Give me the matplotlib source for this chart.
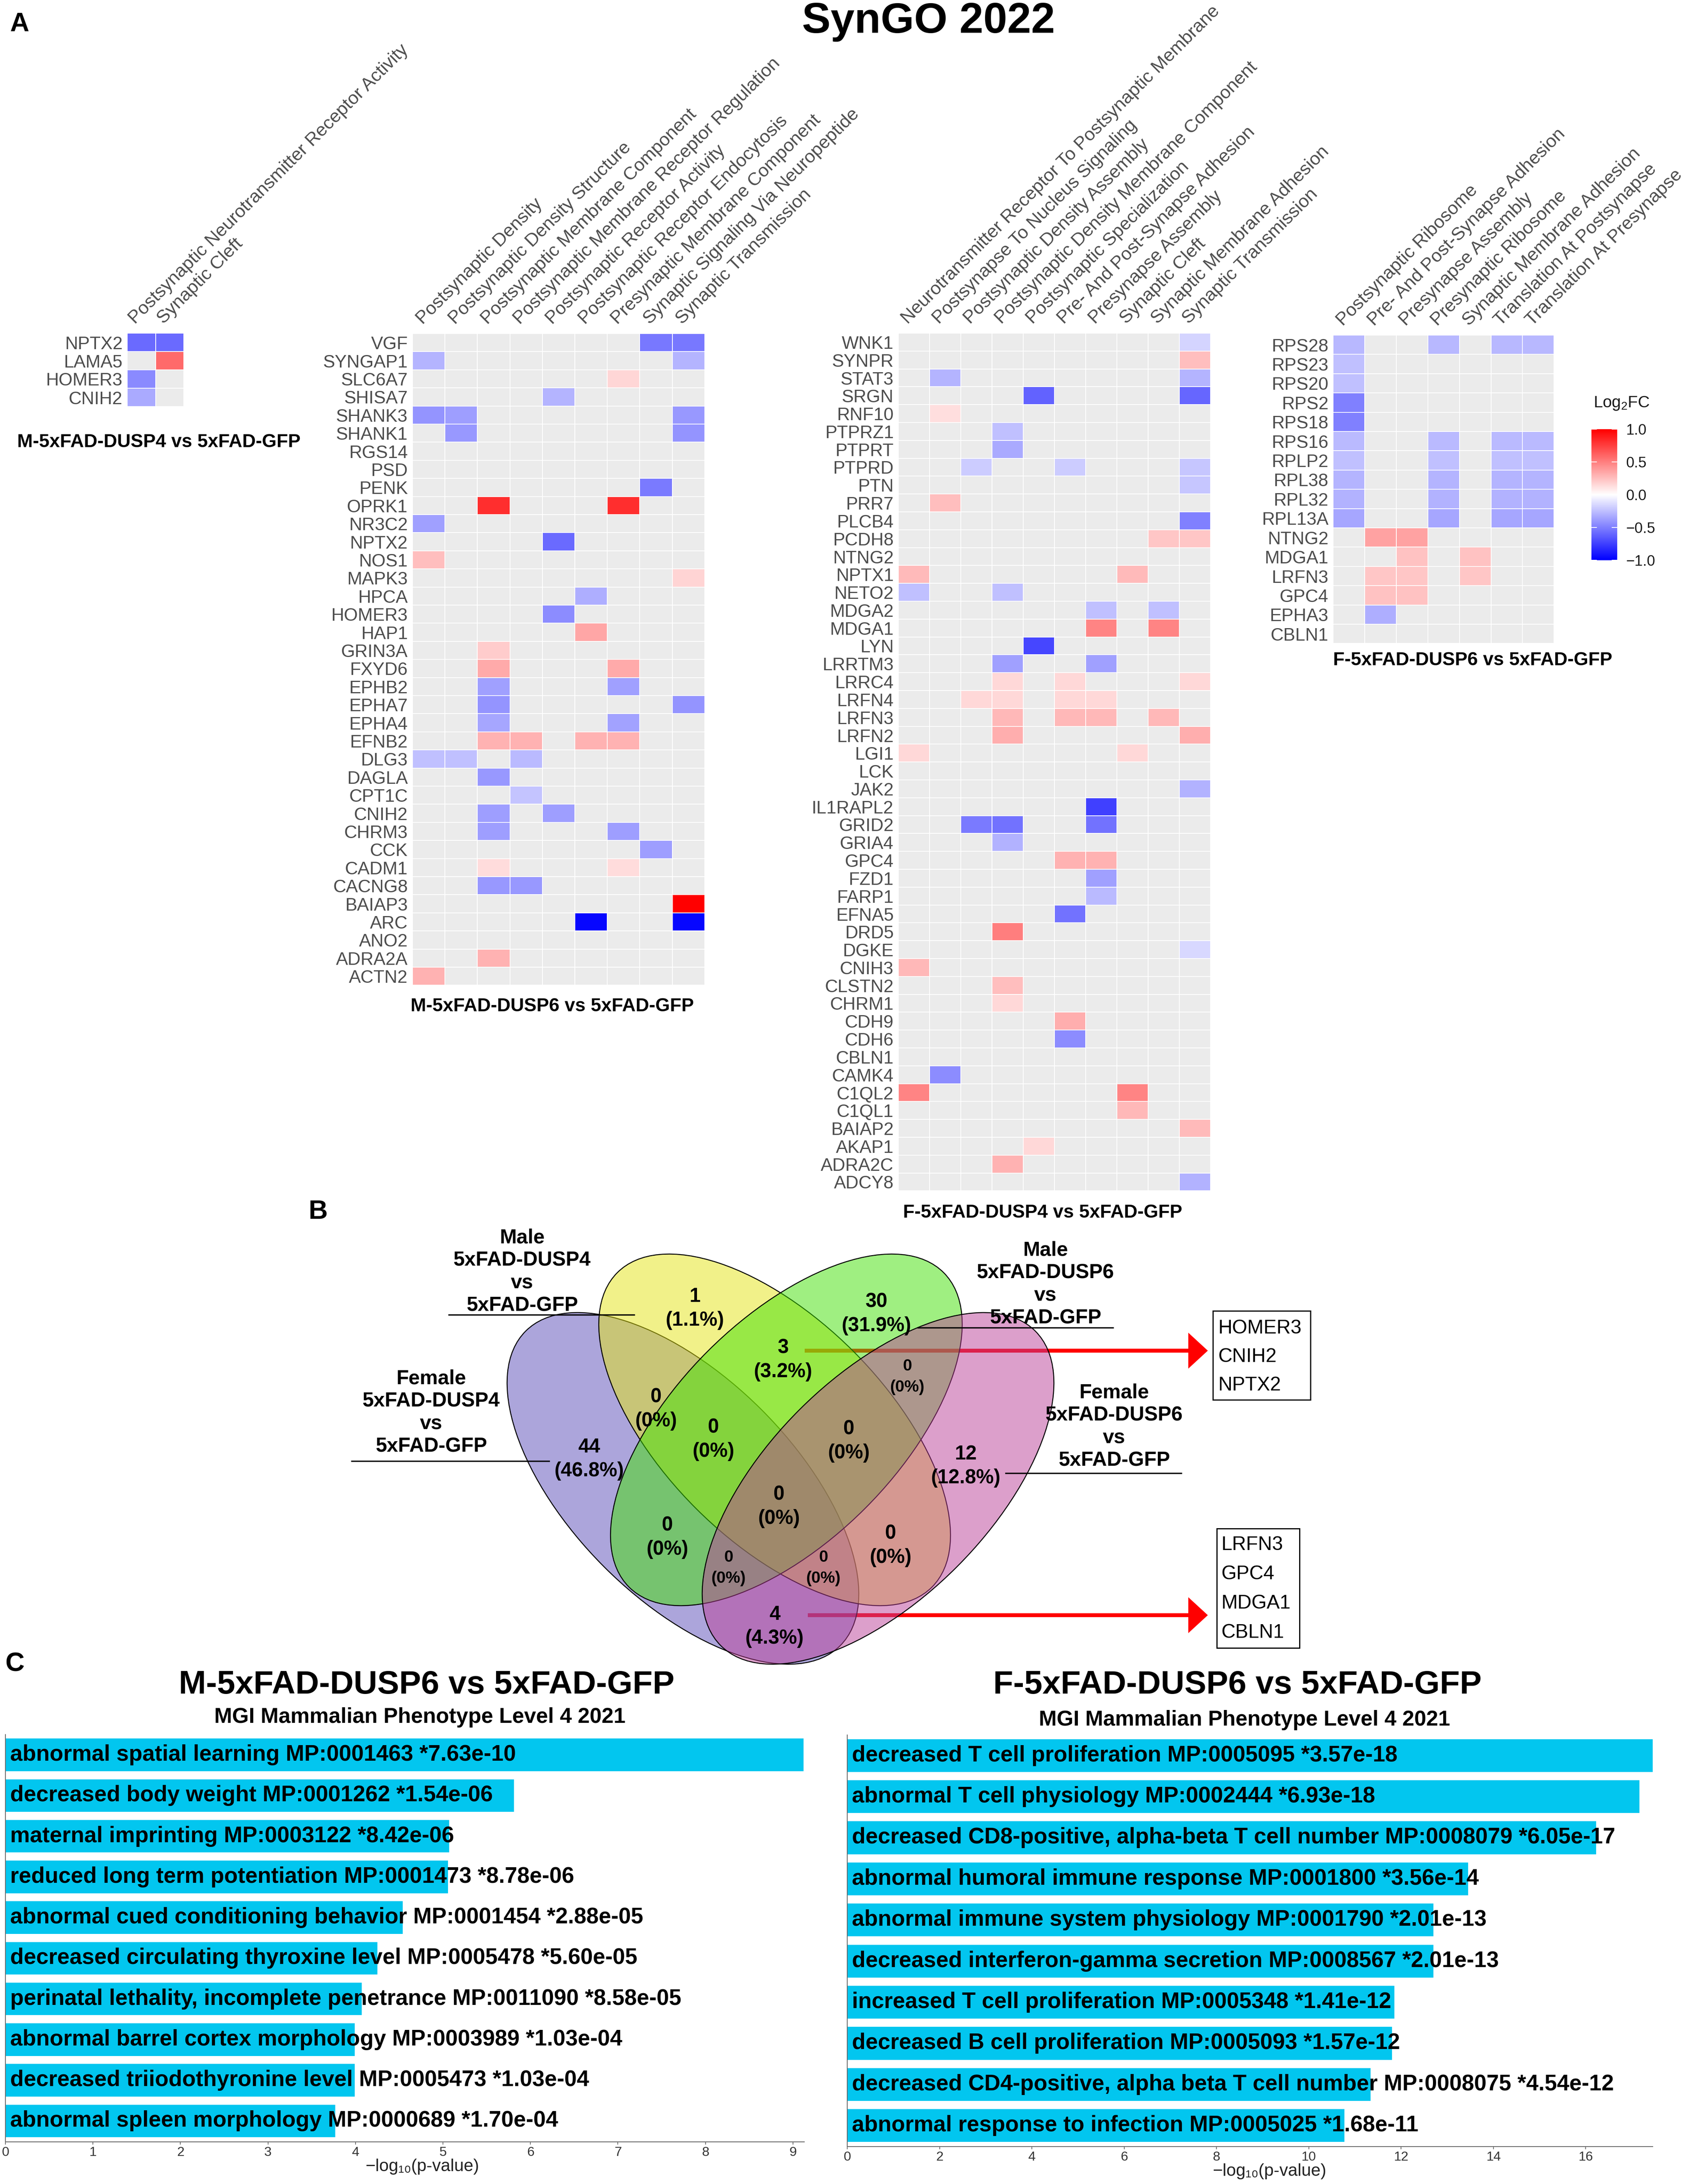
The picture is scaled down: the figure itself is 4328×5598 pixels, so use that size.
import numpy as np
import matplotlib
matplotlib.use('Agg')
import matplotlib.pyplot as plt
from matplotlib.colors import LinearSegmentedColormap
from matplotlib.patches import Ellipse, Rectangle, FancyArrow
import matplotlib.transforms as mtransforms

# ---------------------------------------------------------------- data
_ = None

H1_TERMS = ['Postsynaptic Neurotransmitter Receptor Activity', 'Synaptic Cleft']
H1_GENES = ['NPTX2', 'LAMA5', 'HOMER3', 'CNIH2']
H1_VALUES = [
    [-0.58, -0.58],
    [_, 0.58],
    [-0.46, _],
    [-0.33, _],
]

H2_TERMS = ['Postsynaptic Density', 'Postsynaptic Density Structure',
            'Postsynaptic Membrane Component', 'Postsynaptic Membrane Receptor Regulation',
            'Postsynaptic Receptor Activity', 'Postsynaptic Receptor Endocytosis',
            'Presynaptic Membrane Component', 'Synaptic Signaling Via Neuropeptide',
            'Synaptic Transmission']
H2_GENES = ['VGF', 'SYNGAP1', 'SLC6A7', 'SHISA7', 'SHANK3', 'SHANK1', 'RGS14', 'PSD', 'PENK',
            'OPRK1', 'NR3C2', 'NPTX2', 'NOS1', 'MAPK3', 'HPCA', 'HOMER3', 'HAP1', 'GRIN3A',
            'FXYD6', 'EPHB2', 'EPHA7', 'EPHA4', 'EFNB2', 'DLG3', 'DAGLA', 'CPT1C', 'CNIH2',
            'CHRM3', 'CCK', 'CADM1', 'CACNG8', 'BAIAP3', 'ARC', 'ANO2', 'ADRA2A', 'ACTN2']
H2_VALUES = [
    [_, _, _, _, _, _, _, -0.53, -0.53],       # VGF
    [-0.29, _, _, _, _, _, _, _, -0.29],       # SYNGAP1
    [_, _, _, _, _, _, 0.16, _, _],            # SLC6A7
    [_, _, _, _, -0.29, _, _, _, _],           # SHISA7
    [-0.42, -0.38, _, _, _, _, _, _, -0.40],   # SHANK3
    [_, -0.40, _, _, _, _, _, _, -0.42],       # SHANK1
    [_, _, _, _, _, _, _, _, _],               # RGS14
    [_, _, _, _, _, _, _, _, _],               # PSD
    [_, _, _, _, _, _, _, -0.52, _],           # PENK
    [_, _, 0.82, _, _, _, 0.82, _, _],         # OPRK1
    [-0.37, _, _, _, _, _, _, _, _],           # NR3C2
    [_, _, _, _, -0.58, _, _, _, _],           # NPTX2
    [0.25, _, _, _, _, _, _, _, _],            # NOS1
    [_, _, _, _, _, _, _, _, 0.17],            # MAPK3
    [_, _, _, _, _, -0.32, _, _, _],           # HPCA
    [_, _, _, _, -0.45, _, _, _, _],           # HOMER3
    [_, _, _, _, _, 0.35, _, _, _],            # HAP1
    [_, _, 0.20, _, _, _, _, _, _],            # GRIN3A
    [_, _, 0.33, _, _, _, 0.33, _, _],         # FXYD6
    [_, _, -0.37, _, _, _, -0.37, _, _],       # EPHB2
    [_, _, -0.42, _, _, _, _, _, -0.42],       # EPHA7
    [_, _, -0.35, _, _, _, -0.36, _, _],       # EPHA4
    [_, _, 0.30, 0.30, _, 0.30, 0.30, _, _],   # EFNB2
    [-0.25, -0.25, _, -0.27, _, _, _, _, _],   # DLG3
    [_, _, -0.40, _, _, _, _, _, _],           # DAGLA
    [_, _, _, -0.23, _, _, _, _, _],           # CPT1C
    [_, _, -0.38, _, -0.38, _, _, _, _],       # CNIH2
    [_, _, -0.38, _, _, _, -0.38, _, _],       # CHRM3
    [_, _, _, _, _, _, _, -0.38, _],           # CCK
    [_, _, 0.14, _, _, _, 0.14, _, _],         # CADM1
    [_, _, -0.40, -0.40, _, _, _, _, _],       # CACNG8
    [_, _, _, _, _, _, _, _, 1.00],            # BAIAP3
    [_, _, _, _, _, -0.97, _, _, -0.97],       # ARC
    [_, _, _, _, _, _, _, _, _],               # ANO2
    [_, _, 0.30, _, _, _, _, _, _],            # ADRA2A
    [0.30, _, _, _, _, _, _, _, _],            # ACTN2
]

H3_TERMS = ['Neurotransmitter Receptor To Postsynaptic Membrane', 'Postsynapse To Nucleus Signaling',
            'Postsynaptic Density Assembly', 'Postsynaptic Density Membrane Component',
            'Postsynaptic Specialization', 'Pre- And Post-Synapse Adhesion', 'Presynapse Assembly',
            'Synaptic Cleft', 'Synaptic Membrane Adhesion', 'Synaptic Transmission']
H3_GENES = ['WNK1', 'SYNPR', 'STAT3', 'SRGN', 'RNF10', 'PTPRZ1', 'PTPRT', 'PTPRD', 'PTN', 'PRR7',
            'PLCB4', 'PCDH8', 'NTNG2', 'NPTX1', 'NETO2', 'MDGA2', 'MDGA1', 'LYN', 'LRRTM3',
            'LRRC4', 'LRFN4', 'LRFN3', 'LRFN2', 'LGI1', 'LCK', 'JAK2', 'IL1RAPL2', 'GRID2',
            'GRIA4', 'GPC4', 'FZD1', 'FARP1', 'EFNA5', 'DRD5', 'DGKE', 'CNIH3', 'CLSTN2',
            'CHRM1', 'CDH9', 'CDH6', 'CBLN1', 'CAMK4', 'C1QL2', 'C1QL1', 'BAIAP2', 'AKAP1',
            'ADRA2C', 'ADCY8']
H3_VALUES = [
    [_, _, _, _, _, _, _, _, _, -0.17],            # WNK1
    [_, _, _, _, _, _, _, _, _, 0.25],             # SYNPR
    [_, -0.29, _, _, _, _, _, _, _, -0.29],        # STAT3
    [_, _, _, _, -0.61, _, _, _, _, -0.60],        # SRGN
    [_, 0.13, _, _, _, _, _, _, _, _],             # RNF10
    [_, _, _, -0.25, _, _, _, _, _, _],            # PTPRZ1
    [_, _, _, -0.33, _, _, _, _, _, _],            # PTPRT
    [_, _, -0.20, _, _, -0.20, _, _, _, -0.22],    # PTPRD
    [_, _, _, _, _, _, _, _, _, -0.22],            # PTN
    [_, 0.25, _, _, _, _, _, _, _, _],             # PRR7
    [_, _, _, _, _, _, _, _, _, -0.50],            # PLCB4
    [_, _, _, _, _, _, _, _, 0.22, 0.22],          # PCDH8
    [_, _, _, _, _, _, _, _, _, _],                # NTNG2
    [0.27, _, _, _, _, _, _, 0.27, _, _],          # NPTX1
    [-0.25, _, _, -0.25, _, _, _, _, _, _],        # NETO2
    [_, _, _, _, _, _, -0.25, _, -0.25, _],        # MDGA2
    [_, _, _, _, _, _, 0.48, _, 0.48, _],          # MDGA1
    [_, _, _, _, -0.72, _, _, _, _, _],            # LYN
    [_, _, _, -0.37, _, _, -0.37, _, _, _],        # LRRTM3
    [_, _, _, 0.15, _, 0.15, _, _, _, 0.15],       # LRRC4
    [_, _, 0.15, 0.15, _, 0.15, 0.15, _, _, _],    # LRFN4
    [_, _, _, 0.28, _, 0.28, 0.28, _, 0.28, _],    # LRFN3
    [_, _, _, 0.32, _, _, _, _, _, 0.32],          # LRFN2
    [0.15, _, _, _, _, _, _, 0.15, _, _],          # LGI1
    [_, _, _, _, _, _, _, _, _, _],                # LCK
    [_, _, _, _, _, _, _, _, _, -0.30],            # JAK2
    [_, _, _, _, _, _, -0.75, _, _, _],            # IL1RAPL2
    [_, _, -0.52, -0.55, _, _, -0.55, _, _, _],    # GRID2
    [_, _, _, -0.30, _, _, _, _, _, _],            # GRIA4
    [_, _, _, _, _, 0.30, 0.30, _, _, _],          # GPC4
    [_, _, _, _, _, _, -0.37, _, _, _],            # FZD1
    [_, _, _, _, _, _, -0.27, _, _, _],            # FARP1
    [_, _, _, _, _, -0.55, _, _, _, _],            # EFNA5
    [_, _, _, 0.50, _, _, _, _, _, _],             # DRD5
    [_, _, _, _, _, _, _, _, _, -0.15],            # DGKE
    [0.28, _, _, _, _, _, _, _, _, _],             # CNIH3
    [_, _, _, 0.25, _, _, _, _, _, _],             # CLSTN2
    [_, _, _, 0.15, _, _, _, _, _, _],             # CHRM1
    [_, _, _, _, _, 0.32, _, _, _, _],             # CDH9
    [_, _, _, _, _, -0.45, _, _, _, _],            # CDH6
    [_, _, _, _, _, _, _, _, _, _],                # CBLN1
    [_, -0.45, _, _, _, _, _, _, _, _],            # CAMK4
    [0.48, _, _, _, _, _, _, 0.48, _, _],          # C1QL2
    [_, _, _, _, _, _, _, 0.28, _, _],             # C1QL1
    [_, _, _, _, _, _, _, _, _, 0.27],             # BAIAP2
    [_, _, _, _, 0.15, _, _, _, _, _],             # AKAP1
    [_, _, _, 0.30, _, _, _, _, _, _],             # ADRA2C
    [_, _, _, _, _, _, _, _, _, -0.30],            # ADCY8
]

H4_TERMS = ['Postsynaptic Ribosome', 'Pre- And Post-Synapse Adhesion', 'Presynapse Assembly',
            'Presynaptic Ribosome', 'Synaptic Membrane Adhesion', 'Translation At Postsynapse',
            'Translation At Presynapse']
H4_GENES = ['RPS28', 'RPS23', 'RPS20', 'RPS2', 'RPS18', 'RPS16', 'RPLP2', 'RPL38', 'RPL32',
            'RPL13A', 'NTNG2', 'MDGA1', 'LRFN3', 'GPC4', 'EPHA3', 'CBLN1']
H4_VALUES = [
    [-0.28, _, _, -0.28, _, -0.28, -0.28],   # RPS28
    [-0.25, _, _, _, _, _, _],               # RPS23
    [-0.25, _, _, _, _, _, _],               # RPS20
    [-0.50, _, _, _, _, _, _],               # RPS2
    [-0.50, _, _, _, _, _, _],               # RPS18
    [-0.27, _, _, -0.27, _, -0.27, -0.27],   # RPS16
    [-0.25, _, _, -0.25, _, -0.25, -0.25],   # RPLP2
    [-0.29, _, _, -0.29, _, -0.29, -0.29],   # RPL38
    [-0.30, _, _, -0.30, _, -0.30, -0.30],   # RPL32
    [-0.35, _, _, -0.35, _, -0.35, -0.35],   # RPL13A
    [_, 0.36, 0.36, _, _, _, _],             # NTNG2
    [_, _, 0.24, _, 0.24, _, _],             # MDGA1
    [_, 0.22, 0.22, _, 0.22, _, _],          # LRFN3
    [_, 0.24, 0.24, _, _, _, _],             # GPC4
    [_, -0.32, _, _, _, _, _],               # EPHA3
    [_, _, _, _, _, _, _],                   # CBLN1
]

LEGEND_TICKS = [1.0, 0.5, 0.0, -0.5, -1.0]

VENN_SETS = ['Male\n5xFAD-DUSP4\nvs\n5xFAD-GFP', 'Male\n5xFAD-DUSP6\nvs\n5xFAD-GFP',
             'Female\n5xFAD-DUSP4\nvs\n5xFAD-GFP', 'Female\n5xFAD-DUSP6\nvs\n5xFAD-GFP']
VENN_COUNTS = ['1', '30', '3', '0', '0', '44', '0', '0', '12', '0', '0', '0', '0', '0', '4']
VENN_PCTS = ['(1.1%)', '(31.9%)', '(3.2%)', '(0%)', '(0%)', '(46.8%)', '(0%)', '(0%)',
             '(12.8%)', '(0%)', '(0%)', '(0%)', '(0%)', '(0%)', '(4.3%)']
BOX_MALE = ['HOMER3', 'CNIH2', 'NPTX2']
BOX_FEMALE = ['LRFN3', 'GPC4', 'MDGA1', 'CBLN1']

M_TERMS = ['abnormal spatial learning MP:0001463', 'decreased body weight MP:0001262',
           'maternal imprinting MP:0003122', 'reduced long term potentiation MP:0001473',
           'abnormal cued conditioning behavior MP:0001454',
           'decreased circulating thyroxine level MP:0005478',
           'perinatal lethality, incomplete penetrance MP:0011090',
           'abnormal barrel cortex morphology MP:0003989',
           'decreased triiodothyronine level MP:0005473', 'abnormal spleen morphology MP:0000689']
M_PVALS = ['7.63e-10', '1.54e-06', '8.42e-06', '8.78e-06', '2.88e-05', '5.60e-05', '8.58e-05',
           '1.03e-04', '1.03e-04', '1.70e-04']
M_SCORES = [9.12, 5.81, 5.07, 5.06, 4.54, 4.25, 4.07, 3.99, 3.99, 3.77]
M_TICKS = [0, 1, 2, 3, 4, 5, 6, 7, 8, 9]

F_TERMS = ['decreased T cell proliferation MP:0005095', 'abnormal T cell physiology MP:0002444',
           'decreased CD8-positive, alpha-beta T cell number MP:0008079',
           'abnormal humoral immune response MP:0001800',
           'abnormal immune system physiology MP:0001790',
           'decreased interferon-gamma secretion MP:0008567',
           'increased T cell proliferation MP:0005348', 'decreased B cell proliferation MP:0005093',
           'decreased CD4-positive, alpha beta T cell number MP:0008075',
           'abnormal response to infection MP:0005025']
F_PVALS = ['3.57e-18', '6.93e-18', '6.05e-17', '3.56e-14', '2.01e-13', '2.01e-13', '1.41e-12',
           '1.57e-12', '4.54e-12', '1.68e-11']
F_SCORES = [17.45, 17.16, 16.22, 13.45, 12.70, 12.70, 11.85, 11.80, 11.34, 10.77]
F_TICKS = [0, 2, 4, 6, 8, 10, 12, 14, 16]

# ---------------------------------------------------------------- setup
W, H = 4328, 5598
DPI = 100
PT = 72.0 / DPI
plt.rcParams['font.family'] = ['Liberation Sans', 'DejaVu Sans']
GREY_TXT = '#4D4D4D'
NA_COLOR = '#EBEBEB'
BAR_COLOR = '#02C6EF'

fig = plt.figure(figsize=(W / DPI, H / DPI), dpi=DPI)
fig.patch.set_facecolor('white')


def px_box(x0, y0, x1, y1):
    return [x0 / W, 1 - y1 / H, (x1 - x0) / W, (y1 - y0) / H]


ov = fig.add_axes([0, 0, 1, 1], zorder=10)
ov.set_xlim(0, W)
ov.set_ylim(H, 0)
ov.axis('off')
ov.patch.set_alpha(0)

cmap = LinearSegmentedColormap.from_list('lfc', ['#0000FF', '#FFFFFF', '#FF0000'])
cmap.set_bad(NA_COLOR)


def heatmap(x0, y0, cw, rh, genes, terms, values, caption, cap_xy):
    nr, nc = len(genes), len(terms)
    ax = fig.add_axes(px_box(x0, y0, x0 + nc * cw, y0 + nr * rh))
    M = np.array([[np.nan if v is None else v for v in row] for row in values], float)
    ax.set_facecolor(NA_COLOR)
    ax.pcolormesh(np.arange(nc + 1), np.arange(nr + 1), np.ma.masked_invalid(M),
                  cmap=cmap, vmin=-1, vmax=1, edgecolors='white', linewidth=1.2)
    ax.set_xlim(0, nc)
    ax.set_ylim(nr, 0)
    ax.set_yticks(np.arange(nr) + 0.5)
    ax.set_yticklabels(genes, fontsize=46 * PT, color=GREY_TXT)
    ax.set_xticks([])
    ax.tick_params(axis='y', length=0, pad=12 * PT)
    for s in ax.spines.values():
        s.set_visible(False)
    for j, t in enumerate(terms):
        cx = x0 + (j + 0.5) * cw
        ov.text(cx - 16, y0 - 22, t, rotation=45, rotation_mode='anchor', ha='left',
                va='baseline', fontsize=47 * PT, color=GREY_TXT)
    ov.text(cap_xy[0], cap_xy[1], caption, ha='center', va='center',
            fontsize=48 * PT, fontweight='bold', color='black')


heatmap(326, 854, 72.5, 47.0, H1_GENES, H1_TERMS, H1_VALUES,
        'M-5xFAD-DUSP4 vs 5xFAD-GFP', (407, 1133))
heatmap(1057, 855, 83.2, 46.4, H2_GENES, H2_TERMS, H2_VALUES,
        'M-5xFAD-DUSP6 vs 5xFAD-GFP', (1415, 2579))
heatmap(2302, 854, 80.0, 45.8, H3_GENES, H3_TERMS, H3_VALUES,
        'F-5xFAD-DUSP4 vs 5xFAD-GFP', (2672, 3108))
heatmap(3416, 859, 80.9, 49.4, H4_GENES, H4_TERMS, H4_VALUES,
        'F-5xFAD-DUSP6 vs 5xFAD-GFP', (3774, 1692))

# colour legend
cax = fig.add_axes(px_box(4078, 1100, 4144, 1436))
cax.imshow(np.linspace(1, -1, 256)[:, None], cmap=cmap, vmin=-1, vmax=1,
           aspect='auto', extent=[0, 1, -1, 1])
cax.set_xlim(0, 1)
cax.set_ylim(-1, 1)
cax.set_xticks([])
cax.yaxis.tick_right()
cax.set_yticks(LEGEND_TICKS)
cax.set_yticklabels([('%.1f' % v).replace('-', '\u2212') for v in LEGEND_TICKS],
                    fontsize=38 * PT, color='#1A1A1A')
cax.tick_params(axis='y', length=0, pad=22 * PT)
for s in cax.spines.values():
    s.set_visible(False)
for v in LEGEND_TICKS:
    cax.plot([0, 0.2], [v, v], color='white', lw=1.5)
    cax.plot([0.8, 1], [v, v], color='white', lw=1.5)
ov.text(4083, 1034, r'$\mathregular{Log_2FC}$', ha='left', va='center',
        fontsize=42 * PT, color='#1A1A1A')

# titles / panel letters
ov.text(2379, 56, 'SynGO 2022', ha='center', va='center', fontsize=110 * PT, fontweight='bold')
ov.text(50, 62, 'A', ha='center', va='center', fontsize=68 * PT, fontweight='bold')
ov.text(815, 3106, 'B', ha='center', va='center', fontsize=68 * PT, fontweight='bold')
ov.text(38, 4265, 'C', ha='center', va='center', fontsize=68 * PT, fontweight='bold')

# ---------------------------------------------------------------- Venn (panel B)
ov.add_patch(FancyArrow(2062, 3462, 1033, 0, width=10, head_width=92, head_length=50,
                        length_includes_head=True, color='#FF0000', lw=0, zorder=1))
ov.add_patch(FancyArrow(2070, 4140, 1025, 0, width=10, head_width=92, head_length=50,
                        length_includes_head=True, color='#FF0000', lw=0, zorder=1))

A_AX, B_AX = 570, 285
ellipses = [  # (center x, center y, angle, colour)  drawn in this order
    (1750, 3815, 45, '#5B4DB9'),   # Female DUSP4 (purple)
    (1985, 3665, 45, '#E5E515'),   # Male DUSP4 (yellow)
    (2015, 3665, -45, '#41E105'),  # Male DUSP6 (green)
    (2250, 3815, -45, '#BB4199'),  # Female DUSP6 (pink)
]
for k, (cx, cy, ang, col) in enumerate(ellipses):
    ov.add_patch(Ellipse((cx, cy), 2 * A_AX, 2 * B_AX, angle=ang,
                         facecolor=matplotlib.colors.to_rgba(col, 0.5),
                         edgecolor='black', lw=1.8, zorder=2 + k))

venn_pos = [(1781, 3323), (2246, 3337), (2007, 3455), (2325, 3502), (1681, 3581),
            (1510, 3709), (1828, 3659), (2175, 3663), (2475, 3727), (1996, 3831),
            (1710, 3910), (2282, 3931), (1867, 3992), (2110, 3992), (1985, 4139)]
venn_small = [False, False, False, True, False, False, False, False, False, False,
              False, False, True, True, False]
for (x, y), c, p, sm in zip(venn_pos, VENN_COUNTS, VENN_PCTS, venn_small):
    fs = (42 if sm else 51) * PT
    dy = 54 if sm else 61
    ov.text(x, y, c, ha='center', va='center', fontsize=fs, fontweight='bold', zorder=20)
    ov.text(x, y + dy, p, ha='center', va='center', fontsize=fs, fontweight='bold', zorder=20)

set_label_pos = [(1338, 3173), (2679, 3205), (1105, 3534), (2855, 3570)]
set_line = [((1150, 1625), 3370), ((2352, 2852), 3403), ((901, 1407), 3745), ((2577, 3027), 3776)]
for (x, y), lab, ((lx0, lx1), ly) in zip(set_label_pos, VENN_SETS, set_line):
    for i, line in enumerate(lab.split('\n')):
        ov.text(x, y + i * 58, line, ha='center', va='center', fontsize=52 * PT,
                fontweight='bold', zorder=20)
    ov.plot([lx0, lx1], [ly, ly], color='black', lw=2.5, zorder=20)

ov.add_patch(Rectangle((3108, 3360), 250, 228, fill=False, edgecolor='black', lw=2.2, zorder=20))
for i, g in enumerate(BOX_MALE):
    ov.text(3122, 3405 + i * 73, g, ha='left', va='center', fontsize=50 * PT, zorder=20)
ov.add_patch(Rectangle((3118, 3918), 212, 306, fill=False, edgecolor='black', lw=2.2, zorder=20))
for i, g in enumerate(BOX_FEMALE):
    ov.text(3130, 3960 + i * 75, g, ha='left', va='center', fontsize=50 * PT, zorder=20)


# ---------------------------------------------------------------- bar charts (panel C)
def barchart(box, terms, pvals, scores, xmax, ticks, ylim):
    ax = fig.add_axes(px_box(*box))
    y = np.arange(len(terms))
    ax.barh(y, scores, height=0.8, color=BAR_COLOR)
    ax.set_xlim(0, xmax)
    ax.set_ylim(*ylim)
    ax.set_yticks([])
    ax.set_xticks(ticks)
    ax.set_xticklabels([str(t) for t in ticks], fontsize=34 * PT, color='#333333')
    ax.tick_params(axis='x', length=7 * PT, width=1.2, color='#555555', pad=5 * PT)
    for s in ['top', 'right']:
        ax.spines[s].set_visible(False)
    for s in ['left', 'bottom']:
        ax.spines[s].set_color('#666666')
        ax.spines[s].set_linewidth(1.5)
    off = mtransforms.ScaledTranslation(12 / DPI, 0, fig.dpi_scale_trans)
    for i, (t, p) in enumerate(zip(terms, pvals)):
        ax.text(0, i, '%s *%s' % (t, p), transform=ax.transData + off, ha='left',
                va='center', fontsize=57 * PT, fontweight='bold', color='black')
    return ax


barchart((14, 4446, 2061, 5490), M_TERMS, M_PVALS, M_SCORES, 9.13, M_TICKS, (9.515, -0.5))
barchart((2171, 4447, 4235, 5502), F_TERMS, F_PVALS, F_SCORES, 17.45, F_TICKS, (9.51, -0.5))

ov.text(1093, 4319, 'M-5xFAD-DUSP6 vs 5xFAD-GFP', ha='center', va='center',
        fontsize=84 * PT, fontweight='bold')
ov.text(1076, 4402, 'MGI Mammalian Phenotype Level 4 2021', ha='center', va='center',
        fontsize=55 * PT, fontweight='bold')
ov.text(3171, 4319, 'F-5xFAD-DUSP6 vs 5xFAD-GFP', ha='center', va='center',
        fontsize=84 * PT, fontweight='bold')
ov.text(3189, 4409, 'MGI Mammalian Phenotype Level 4 2021', ha='center', va='center',
        fontsize=55 * PT, fontweight='bold')
ov.text(1083, 5553, '\u2212log\u2081\u2080(p-value)', ha='center', va='center',
        fontsize=44 * PT, color='#222222')
ov.text(3254, 5566, '\u2212log\u2081\u2080(p-value)', ha='center', va='center',
        fontsize=44 * PT, color='#222222')

fig.savefig('out.png', dpi=DPI, facecolor='white')
